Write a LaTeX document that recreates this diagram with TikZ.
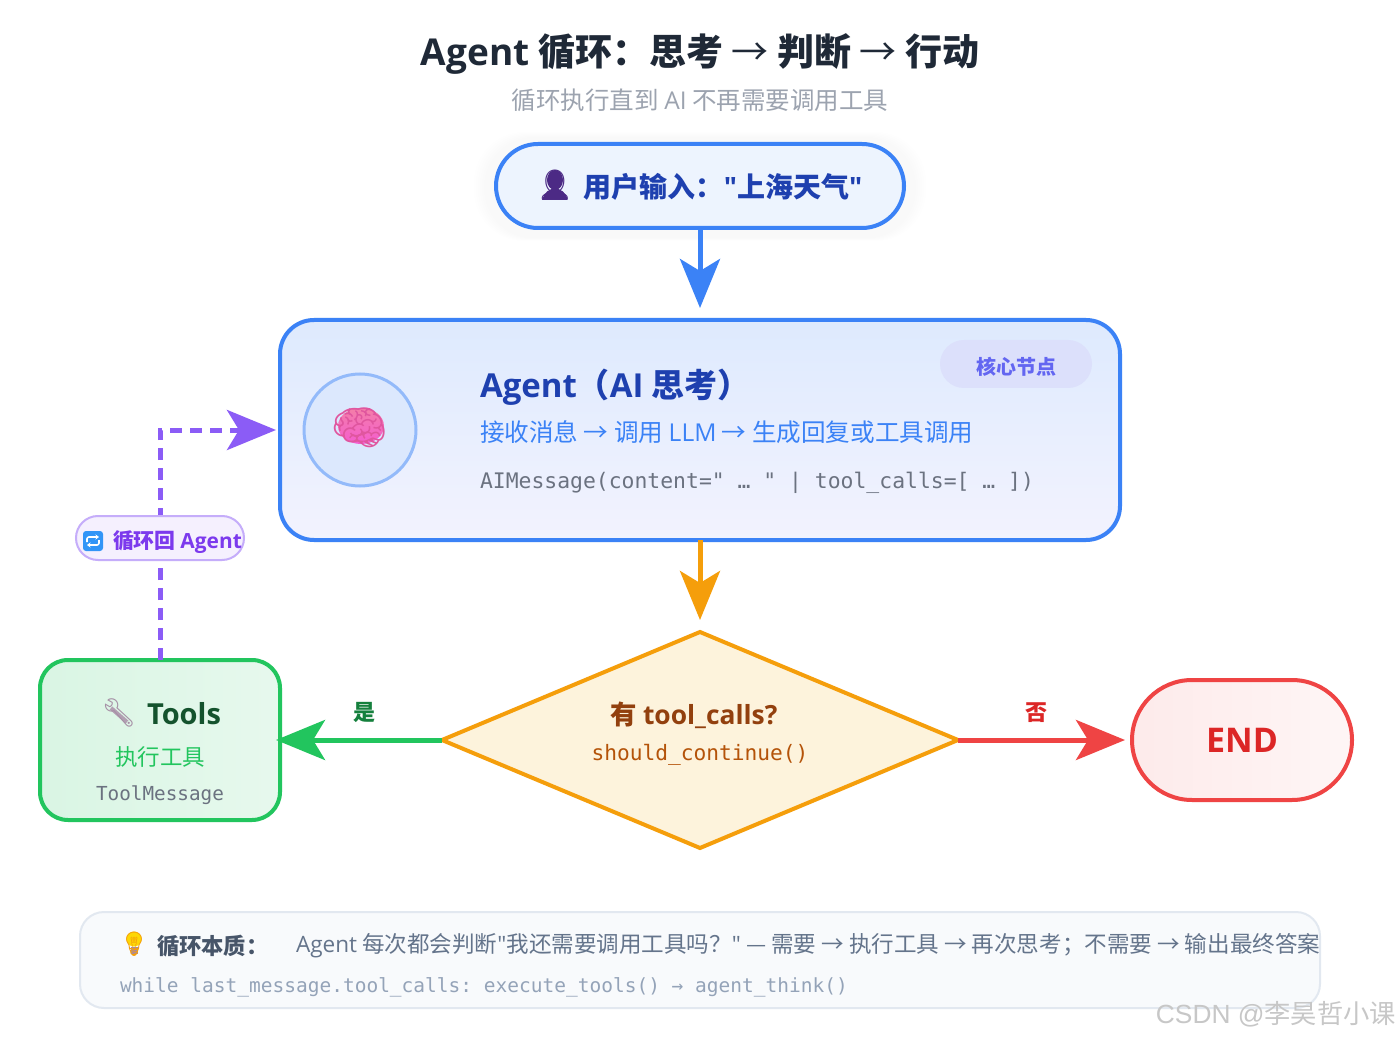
\documentclass[tikz,border=0pt]{standalone}
\usepackage{fontspec}
\setmainfont{Noto Sans CJK SC}
\setmonofont{DejaVu Sans Mono}
\newfontfamily\latf{Open Sans}
\newfontfamily\emojif{Noto Emoji}
\newfontfamily\markf{Liberation Sans}
\usetikzlibrary{arrows.meta,shapes.geometric}
\definecolor{cblue}{HTML}{3B82F6}
\definecolor{cnavy}{HTML}{1E40AF}
\definecolor{camber}{HTML}{F59E0B}
\definecolor{cgreen}{HTML}{22C55E}
\definecolor{cred}{HTML}{EF4444}
\definecolor{cdred}{HTML}{DC2626}
\definecolor{cpurple}{HTML}{8B5CF6}
\definecolor{cslate}{HTML}{64748B}
\definecolor{cgrey}{HTML}{6B7280}
\definecolor{ctitle}{HTML}{1F2937}
\definecolor{csub}{HTML}{9CA3AF}
\definecolor{cindigo}{HTML}{6366F1}
\definecolor{cviolet}{HTML}{7C3AED}
\definecolor{cperson}{HTML}{4C2A85}
\definecolor{cbrown}{HTML}{92400E}
\definecolor{cochre}{HTML}{B45309}
\definecolor{cforest}{HTML}{14532D}
\definecolor{cyes}{HTML}{15803D}
\definecolor{cnotehead}{HTML}{475569}
\definecolor{cnotecode}{HTML}{94A3B8}
\definecolor{cdiamond}{HTML}{FDF3DC}
\definecolor{cnotefill}{HTML}{F8FAFC}
\definecolor{cnoteline}{HTML}{E2E8F0}
\definecolor{cbadge}{HTML}{DCE0FB}
\definecolor{cbraintop}{HTML}{F47FA8}
\definecolor{cbrainlow}{HTML}{F45CD0}
\definecolor{cbrainline}{HTML}{E0569F}
\newcommand{\fs}[1]{\fontsize{#1}{#1}\selectfont}
\newcommand{\lat}[1]{{\latf #1}}
\tikzset{
  box/.style={draw,rectangle,inner sep=0pt,outer sep=0pt,line width=4pt},
  txt/.style={inner sep=0pt,outer sep=0pt},
  ltxt/.style={inner sep=0pt,outer sep=0pt,anchor=west},
  flow/.style={line width=5pt,-{Stealth[length=49pt,width=40pt,inset=12pt]}},
}
\begin{document}
\begin{tikzpicture}[x=1pt,y=-1pt]
\useasboundingbox (0,0) rectangle (1400,1040);
\fill[white] (0,0) rectangle (1400,1040);

% title
\node[txt,text=ctitle] (title) at (700,54)
  {\fs{37}\bfseries \lat{Agent} 循环：思考 {\mdseries →} 判断 {\mdseries →} 行动};
\node[txt,text=csub] (subtitle) at (700,100)
  {\fs{24.5}循环执行直到 \lat{AI} 不再需要调用工具};

% soft glow of the input box
\foreach \g in {1,...,6}
  \fill[cblue,opacity=0.005,rounded corners=50pt] ({486-2*\g},{138-\g}) rectangle ({914+2*\g},{238+\g/2});

% nodes
\node[box,draw=cblue,fill=cblue!9!white,minimum width=408pt,minimum height=84pt,rounded corners=42pt] (user) at (700,186) {};
\node[box,draw=cblue,top color=cblue!17!white,bottom color=cindigo!8!white,minimum width=840pt,minimum height=220pt,rounded corners=34pt] (agent) at (700,430) {};
\node[fill=cbadge,rounded corners=24pt,minimum width=152pt,minimum height=48pt,inner sep=0pt] (badge) at (1016,364) {};
\node[circle,fill=cblue!18!white,draw=cblue!55!white,line width=3pt,minimum size=112pt,inner sep=0pt] (ring) at (360,430) {};
\node[diamond,draw=camber,line width=4pt,fill=cdiamond,minimum width=516pt,minimum height=216pt,inner sep=0pt,outer sep=0pt] (check) at (700,740) {};
\node[box,draw=cgreen,left color=cgreen!17!white,right color=cgreen!11!white,minimum width=240pt,minimum height=160pt,rounded corners=28pt] (tools) at (160,740) {};
\node[box,draw=cred,left color=cred!11!white,right color=cred!5!white,minimum width=220pt,minimum height=120pt,rounded corners=60pt] (end) at (1242,740) {};
\node[box,line width=2pt,draw=cnoteline,fill=cnotefill,minimum width=1240pt,minimum height=96pt,rounded corners=24pt] (note) at (700,960) {};

% connectors
\coordinate (bend) at (160,430);
\draw[flow,draw=cblue,shorten >=12pt] (user) -- (agent);
\draw[flow,draw=camber,shorten >=12pt] (agent) -- (check);
\draw[flow,draw=cgreen,shorten >=-4pt] (check.west) -- (tools.east);
\draw[flow,draw=cred,shorten >=7pt] (check.east) -- (end.west);
\draw[flow,draw=cpurple,dash pattern=on 12pt off 8pt,shorten >=4pt] (tools.north) -- (bend) -- (agent.west |- bend);

% loop label
\fill[white] (150,560) rectangle (170,568);
\node[box,line width=2pt,draw=cpurple!50!white,fill=cpurple!9!white,minimum width=168pt,minimum height=44pt,rounded corners=22pt] (looplabel) at (160,538) {};

% user text
\node[txt,text=cnavy] (usertext) at (723,187) {\fs{28}\bfseries 用户输入：\lat{"}上海天气\lat{"}};
\fill[cperson] (555,180) ellipse (8pt and 10pt);
\fill[cperson] (542.5,199) .. controls (544,192) and (550,189) .. (555,188) .. controls (560,189) and (566,192) .. (567.5,199) -- cycle;
\node[txt,text=cperson] (usericon) at (555,185) {\fs{30}\emojif 👤};

% agent text
\node[ltxt,text=cnavy] (agenttitle) at (480,387) {\fs{33}\bfseries \lat{Agent}（\lat{AI} 思考）};
\node[ltxt,text=cblue] (agentsub) at (480,432) {\fs{24.6}接收消息 → 调用 \lat{LLM} → 生成回复或工具调用};
\node[ltxt,text=cgrey] (agentcode) at (480,483) {\fs{21.4}\ttfamily AIMessage(content=" … " | tool\_calls=[ … ])};
\node[txt,text=cindigo] (badgetext) at (1016,367) {\fs{20}\bfseries 核心节点};
\shade[top color=cbraintop,bottom color=cbrainlow] (361,426) ellipse (23pt and 18pt);
\node[txt,text=cbrainline] (brain) at (360,428) {\fs{46}\emojif 🧠};

% decision text
\node[txt,text=cbrown] (checktitle) at (694,715) {\fs{26.4}\bfseries 有 \lat{tool\_calls?}};
\node[txt,text=cochre] (checkcode) at (700,755) {\fs{21.2}\ttfamily should\_continue()};

% edge labels
\node[txt,text=cyes] (yes) at (364,712) {\fs{22}\bfseries 是};
\node[txt,text=cdred] (no) at (1036,713) {\fs{22}\bfseries 否};

% tools text
\draw[line width=4pt,violet!25!gray!60!white] (111,708) -- (127,722);
\node[txt,text=violet!25!gray!70!white] (toolicon) at (119,713) {\fs{28}\emojif 🔧};
\node[ltxt,text=cforest] (toolstitle) at (147,714) {\fs{29}\bfseries\latf Tools};
\node[txt,text=cgreen] (toolssub) at (160,757) {\fs{22.5}执行工具};
\node[txt,text=cgrey] (toolscode) at (160,795) {\fs{19.3}\ttfamily ToolMessage};

% end text
\node[txt,text=cdred] (endtext) at (1242,740) {\fs{34}\bfseries\latf END};

% loop label text
\node[rectangle,fill=cblue!85!cyan,minimum size=20pt,inner sep=0pt,rounded corners=3pt] (loopbg) at (93,541) {};
\draw[white,line width=1.6pt,rounded corners=2pt,-{Stealth[length=3.5pt,width=5pt]}] (87,542) -- (87,537) -- (99,537);
\draw[white,line width=1.6pt,rounded corners=2pt,-{Stealth[length=3.5pt,width=5pt]}] (99,540) -- (99,545) -- (87,545);
\node[ltxt,text=cviolet] (looptext) at (113,542) {\fs{20.9}\bfseries 循环回 \lat{Agent}};

% note text
\fill[yellow!75!orange] (134,939) circle (7.5pt);
\fill[violet!35!gray!70!white] (130.5,947) rectangle (137.5,954);
\node[txt,text=camber] (bulb) at (134,944) {\fs{24}\emojif 💡};
\node[ltxt,text=cnotehead] (notehead) at (157,946) {\fs{22.3}\bfseries 循环本质：};
\node[ltxt,text=cslate] (notebody) at (296,946) {\fs{22.55}\lat{Agent} 每次都会判断\lat{"}我还需要调用工具吗？\lat{"} — 需要 → 执行工具 → 再次思考；不需要 → 输出最终答案};
\node[ltxt,text=cnotecode] (notecode) at (120,987) {\fs{19.5}\ttfamily while last\_message.tool\_calls: execute\_tools() → agent\_think()};

% watermark
\node[txt,text=black!22,anchor=east] (mark) at (1396,1014) {\fs{26.3}\markf CSDN @\normalfont 李昊哲小课};
\end{tikzpicture}
\end{document}
